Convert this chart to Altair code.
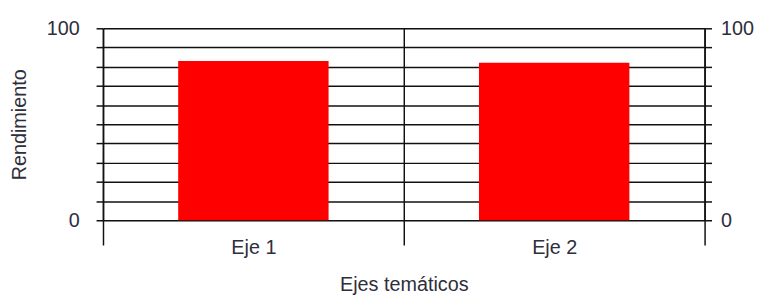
import altair as alt
import pandas as pd

categories = ["Eje 1", "Eje 2"]
values = [83, 82]
y_ticks = list(range(0, 101, 10))

df = pd.DataFrame({"eje": categories, "rend": values})

FONT = "Liberation Sans"
INK = "#111111"
LABEL = "#2e2e3c"
FS = 20

x_enc = alt.X(
    "eje:N",
    sort=categories,
    scale=alt.Scale(paddingInner=0, paddingOuter=0),
    axis=alt.Axis(
        title="Ejes temáticos",
        labelAngle=0,
        tickBand="extent",
        tickSize=25,
        tickColor=INK,
        tickWidth=1.5,
        grid=True,
        gridColor=INK,
        gridWidth=1.5,
        gridOpacity=1,
        domain=False,
        labelPadding=-7,
        labelFont=FONT,
        labelFontSize=FS,
        labelColor=LABEL,
        titleFont=FONT,
        titleFontSize=FS,
        titleFontWeight="normal",
        titleColor=LABEL,
        titlePadding=17,
    ),
)

y_scale = alt.Scale(domain=[0, 100], nice=False, zero=True)

label_expr = "datum.value == 0 || datum.value == 100 ? datum.label : ''"

bars = alt.Chart(df).mark_bar(color="#ff0000", width=alt.RelativeBandSize(0.5)).encode(
    x=x_enc,
    y=alt.Y(
        "rend:Q",
        scale=y_scale,
        axis=alt.Axis(
            values=y_ticks,
            title="Rendimiento",
            labelExpr=label_expr,
            grid=True,
            gridColor=INK,
            gridWidth=1.5,
            gridOpacity=1,
            domainColor=INK,
            domainWidth=1.5,
            tickColor=INK,
            tickWidth=1.5,
            tickSize=7,
            labelPadding=17,
            labelFont=FONT,
            labelFontSize=FS,
            labelColor=LABEL,
            titleFont=FONT,
            titleFontSize=FS,
            titleFontWeight="normal",
            titleColor=LABEL,
            titlePadding=17,
        ),
    ),
)

right = alt.Chart(df).mark_bar(opacity=0).encode(
    y=alt.Y(
        "rend:Q",
        scale=y_scale,
        axis=alt.Axis(
            orient="right",
            values=y_ticks,
            title=None,
            labelExpr=label_expr,
            grid=False,
            domainColor=INK,
            domainWidth=1.5,
            tickColor=INK,
            tickWidth=1.5,
            tickSize=7,
            labelPadding=9,
            labelFont=FONT,
            labelFontSize=FS,
            labelColor=LABEL,
        ),
    ),
)

chart = (
    alt.layer(bars, right)
    .resolve_scale(y="shared")
    .resolve_axis(y="independent")
    .properties(
        width=608,
        height=194,
        autosize=alt.AutoSizeParams(type="none"),
        padding={"left": 96, "top": 19, "right": 56, "bottom": 75},
    )
    .configure_view(stroke=None)
    .configure(background="white")
)

chart.save("out.html", embed_options={"renderer": "svg", "actions": False})
